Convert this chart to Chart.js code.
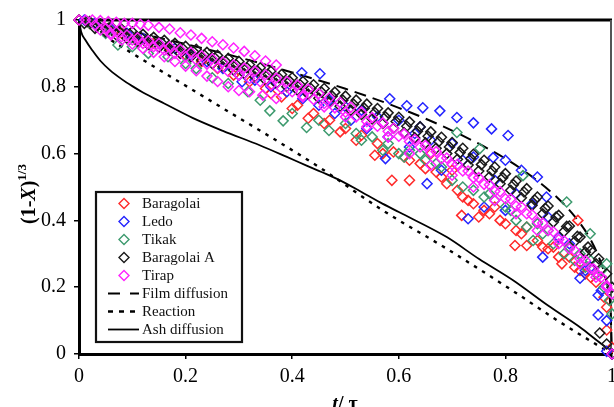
<!DOCTYPE html>
<html>
<head>
<meta charset="utf-8">
<script src="https://cdn.jsdelivr.net/npm/chart.js@4.4.1/dist/chart.umd.min.js"></script>
<style>
  html, body { margin: 0; padding: 0; background: #fff; }
  #wrap { width: 614px; height: 407px; }
</style>
</head>
<body>
<div id="wrap"><canvas id="chart" width="614" height="407"></canvas></div>
<script>
// values: [t/tau, (1-X)^1/3]
const tickLabels = ['0', '0.2', '0.4', '0.6', '0.8', '1'];

const baragolai = [
  [0,1],[0.02,0.99],[0.05,0.975],[0.08,0.96],[0.11,0.945],[0.14,0.93],[0.17,0.915],[0.2,0.895],
  [0.23,0.875],[0.26,0.855],[0.29,0.835],[0.32,0.815],[0.35,0.795],[0.36,0.78],[0.38,0.77],[0.4,0.735],
  [0.41,0.745],[0.43,0.706],[0.44,0.72],[0.46,0.69],[0.47,0.7],[0.49,0.665],[0.5,0.675],[0.52,0.64],
  [0.53,0.655],[0.555,0.595],[0.56,0.63],[0.57,0.6],[0.587,0.52],[0.59,0.605],[0.61,0.59],[0.62,0.52],
  [0.62,0.58],[0.64,0.57],[0.65,0.555],[0.66,0.6],[0.67,0.545],[0.68,0.53],[0.69,0.51],[0.7,0.55],
  [0.71,0.49],[0.718,0.415],[0.72,0.47],[0.73,0.46],[0.74,0.45],[0.75,0.41],[0.76,0.43],[0.77,0.42],
  [0.78,0.44],[0.79,0.4],[0.8,0.39],[0.818,0.325],[0.82,0.37],[0.83,0.36],[0.84,0.325],[0.84,0.38],
  [0.86,0.34],[0.87,0.32],[0.88,0.315],[0.89,0.32],[0.9,0.29],[0.906,0.27],[0.92,0.29],[0.93,0.26],
  [0.936,0.4],[0.94,0.25],[0.95,0.24],[0.96,0.23],[0.97,0.215],[0.985,0.17],[0.99,0.14],[0.99,0.072],
  [1,0.02],[1,0]
];

const ledo = [
  [0.01,1],[0.03,0.99],[0.06,0.975],[0.09,0.96],[0.12,0.945],[0.15,0.93],[0.18,0.915],[0.21,0.895],
  [0.24,0.875],[0.27,0.855],[0.3,0.835],[0.306,0.815],[0.33,0.82],[0.36,0.8],[0.39,0.785],
  [0.418,0.842],[0.42,0.765],[0.452,0.839],[0.45,0.745],[0.47,0.76],[0.48,0.72],[0.5,0.74],[0.51,0.7],
  [0.53,0.73],[0.54,0.675],[0.56,0.71],[0.575,0.585],[0.583,0.764],[0.58,0.65],[0.6,0.7],[0.615,0.743],
  [0.62,0.62],[0.63,0.66],[0.64,0.68],[0.645,0.737],[0.653,0.51],[0.66,0.64],[0.677,0.728],[0.68,0.55],
  [0.7,0.63],[0.709,0.708],[0.72,0.58],[0.73,0.405],[0.74,0.692],[0.74,0.59],[0.76,0.44],[0.774,0.674],
  [0.777,0.588],[0.78,0.52],[0.8,0.58],[0.8,0.43],[0.805,0.654],[0.82,0.48],[0.83,0.55],[0.85,0.45],
  [0.86,0.53],[0.87,0.29],[0.877,0.47],[0.88,0.41],[0.9,0.35],[0.92,0.33],[0.94,0.227],[0.95,0.25],
  [0.96,0.26],[0.974,0.176],[0.974,0.117],[0.98,0.19],[0.99,0.1],[0.99,0.008],[1,0]
];

const tikak = [
  [0.02,0.99],[0.05,0.96],[0.073,0.925],[0.1,0.92],[0.13,0.9],[0.167,0.89],[0.2,0.87],[0.22,0.855],
  [0.25,0.827],[0.28,0.81],[0.317,0.785],[0.34,0.76],[0.358,0.728],[0.383,0.698],[0.4,0.72],
  [0.427,0.678],[0.45,0.7],[0.469,0.669],[0.5,0.69],[0.52,0.66],[0.53,0.64],[0.55,0.65],[0.57,0.61],
  [0.58,0.63],[0.6,0.6],[0.61,0.59],[0.62,0.61],[0.64,0.6],[0.65,0.58],[0.67,0.57],[0.68,0.56],
  [0.7,0.52],[0.709,0.663],[0.72,0.5],[0.74,0.49],[0.752,0.615],[0.76,0.47],[0.77,0.48],[0.78,0.46],
  [0.8,0.44],[0.81,0.43],[0.82,0.4],[0.833,0.534],[0.84,0.38],[0.852,0.34],[0.86,0.39],[0.87,0.36],
  [0.88,0.37],[0.89,0.33],[0.91,0.3],[0.915,0.455],[0.92,0.32],[0.93,0.28],[0.94,0.3],[0.95,0.26],
  [0.959,0.36],[0.96,0.28],[0.97,0.24],[0.98,0.25],[0.985,0.2],[0.99,0.27],[0.995,0.16],[1,0.2],[1,0.12]
];

const baragolaiA = [
  [0,1],[0.02,0.995],[0.04,0.988],[0.06,0.98],[0.08,0.972],[0.1,0.965],[0.12,0.957],[0.14,0.948],
  [0.16,0.939],[0.18,0.93],[0.2,0.921],[0.22,0.912],[0.24,0.903],[0.26,0.894],[0.28,0.885],[0.3,0.876],
  [0.32,0.866],[0.34,0.857],[0.36,0.847],[0.38,0.837],[0.4,0.827],[0.42,0.816],[0.44,0.806],[0.46,0.795],
  [0.48,0.784],[0.5,0.772],[0.52,0.76],[0.54,0.748],[0.56,0.735],[0.58,0.722],[0.6,0.709],[0.62,0.695],
  [0.64,0.68],[0.66,0.665],[0.68,0.649],[0.7,0.633],[0.72,0.616],[0.74,0.598],[0.76,0.58],[0.78,0.56],
  [0.8,0.54],[0.82,0.518],[0.84,0.495],[0.86,0.47],[0.88,0.443],[0.9,0.415],[0.92,0.383],[0.94,0.35],
  [0.96,0.31],[0.975,0.285],[0.99,0.24],[1,0.2],
  [0.01,0.99],[0.03,0.975],[0.05,0.965],[0.07,0.955],[0.09,0.945],[0.11,0.936],[0.13,0.927],[0.15,0.918],
  [0.17,0.909],[0.19,0.9],[0.21,0.89],[0.23,0.88],[0.25,0.87],[0.27,0.86],[0.29,0.85],[0.31,0.84],
  [0.33,0.83],[0.35,0.82],[0.37,0.81],[0.39,0.8],[0.41,0.79],[0.43,0.778],[0.45,0.766],[0.47,0.754],
  [0.49,0.742],[0.51,0.73],[0.53,0.717],[0.55,0.704],[0.57,0.69],[0.59,0.676],[0.61,0.662],[0.63,0.647],
  [0.65,0.632],[0.67,0.616],[0.69,0.6],[0.71,0.583],[0.73,0.566],[0.75,0.548],[0.77,0.53],[0.79,0.51],
  [0.81,0.49],[0.83,0.468],[0.85,0.445],[0.87,0.42],[0.89,0.395],[0.91,0.367],[0.93,0.337],[0.95,0.305],
  [0.97,0.27],
  [0.015,0.995],[0.035,0.985],[0.055,0.975],[0.075,0.966],[0.095,0.958],[0.115,0.95],[0.135,0.941],
  [0.155,0.932],[0.175,0.923],[0.195,0.914],[0.215,0.905],[0.235,0.895],[0.255,0.886],[0.275,0.876],
  [0.295,0.866],[0.315,0.857],[0.335,0.847],[0.355,0.837],[0.375,0.827],[0.395,0.817],[0.415,0.806],
  [0.435,0.795],[0.455,0.784],[0.475,0.772],[0.495,0.76],[0.515,0.748],[0.535,0.736],[0.555,0.723],
  [0.575,0.71],[0.595,0.696],[0.615,0.682],[0.635,0.667],[0.655,0.652],[0.675,0.636],[0.695,0.62],
  [0.715,0.603],[0.735,0.585],[0.755,0.567],[0.775,0.548],[0.795,0.528],[0.815,0.507],[0.835,0.485],
  [0.855,0.461],[0.875,0.436],[0.895,0.41],[0.915,0.382],[0.935,0.352],[0.955,0.32],
  [0.977,0.063],[0.99,0.03],[1,0]
];

const tirap = [
  // upper strand
  [0,1],[0.012,1],[0.025,1],[0.04,0.998],[0.055,0.995],[0.07,0.993],[0.085,0.99],[0.1,0.99],
  [0.115,0.987],[0.13,0.984],[0.15,0.978],[0.17,0.973],[0.19,0.962],[0.21,0.955],[0.23,0.945],
  [0.25,0.935],[0.27,0.926],[0.29,0.916],[0.31,0.906],[0.33,0.893],[0.35,0.877],[0.37,0.865],
  // middle strand
  [0.03,0.985],[0.05,0.975],[0.07,0.965],[0.09,0.955],[0.11,0.947],[0.13,0.938],[0.15,0.93],[0.17,0.92],
  [0.19,0.912],[0.21,0.903],[0.23,0.893],[0.25,0.884],[0.27,0.874],[0.29,0.865],[0.31,0.856],[0.33,0.847],
  [0.35,0.836],[0.37,0.826],[0.39,0.816],[0.41,0.805],[0.43,0.793],[0.45,0.78],[0.47,0.767],[0.49,0.753],
  [0.51,0.739],[0.53,0.724],[0.55,0.708],[0.57,0.692],[0.59,0.676],[0.61,0.659],[0.63,0.642],[0.65,0.624],
  [0.67,0.606],[0.69,0.587],[0.71,0.568],[0.73,0.548],[0.75,0.528],[0.77,0.507],[0.79,0.486],[0.81,0.464],
  [0.83,0.441],[0.85,0.417],[0.87,0.392],[0.89,0.366],[0.91,0.339],[0.93,0.31],[0.95,0.28],[0.965,0.255],
  [0.98,0.23],[0.99,0.205],[1,0.18],[1,0],
  // second middle strand
  [0.04,0.97],[0.06,0.96],[0.08,0.95],[0.1,0.94],[0.12,0.93],[0.14,0.92],[0.16,0.91],[0.18,0.9],
  [0.2,0.89],[0.22,0.88],[0.24,0.868],[0.26,0.857],[0.28,0.846],[0.3,0.835],[0.32,0.825],[0.34,0.815],
  [0.36,0.805],[0.38,0.795],[0.4,0.785],[0.42,0.774],[0.44,0.762],[0.46,0.75],[0.48,0.737],[0.5,0.724],
  [0.52,0.71],[0.54,0.696],[0.56,0.682],[0.58,0.667],[0.6,0.652],[0.62,0.636],[0.64,0.62],[0.66,0.603],
  [0.68,0.585],[0.7,0.567],[0.72,0.548],[0.74,0.528],[0.76,0.508],[0.78,0.487],[0.8,0.465],[0.82,0.443],
  [0.84,0.42],[0.86,0.395],[0.88,0.37],[0.9,0.343],[0.92,0.315],[0.94,0.285],[0.96,0.255],[0.975,0.235],
  // lower strand
  [0.06,0.955],[0.08,0.94],[0.1,0.928],[0.12,0.915],[0.14,0.903],[0.16,0.89],[0.18,0.876],[0.2,0.862],
  [0.22,0.848],[0.24,0.832],[0.26,0.816],[0.28,0.8],[0.3,0.789],[0.32,0.785],[0.345,0.775],[0.37,0.765],
  [0.42,0.77],[0.46,0.74],[0.5,0.71],[0.54,0.68],[0.58,0.65],[0.62,0.6],[0.66,0.565],[0.7,0.535],
  [0.74,0.5],[0.78,0.46],[0.82,0.42],[0.86,0.37],[0.9,0.33],[0.94,0.27],[0.97,0.23],[0.99,0.2]
];

const filmDiffusion = [
  [0,1],[0.1,0.965],[0.2,0.928],[0.3,0.888],[0.4,0.843],[0.5,0.794],[0.6,0.737],[0.7,0.669],
  [0.8,0.585],[0.85,0.531],[0.9,0.464],[0.93,0.412],[0.96,0.342],[0.98,0.27],[0.99,0.215],[0.997,0.14],[1,0]
];
const reaction = [
  [0,1],[0.1,0.9],[0.25,0.755],[0.45,0.56],[0.57,0.43],[0.69,0.315],[0.815,0.188],[0.9,0.098],[1,0]
];
const ashDiffusion = [
  [0,1],[0.004,0.965],[0.012,0.94],[0.026,0.907],[0.04,0.878],[0.058,0.85],[0.08,0.823],[0.1,0.802],
  [0.12,0.783],[0.16,0.75],[0.213,0.707],[0.27,0.668],[0.339,0.625],[0.39,0.59],[0.427,0.564],
  [0.455,0.545],[0.49,0.52],[0.53,0.485],[0.565,0.454],[0.6,0.425],[0.69,0.35],[0.75,0.285],
  [0.815,0.22],[0.88,0.145],[0.94,0.08],[0.983,0.027],[1,0.01]
];

const xy = arr => arr.map(p => ({ x: p[0], y: p[1] }));
const serif = '"Liberation Serif", "Times New Roman", serif';

function pts(label, data, color, order) {
  return {
    label, data: xy(data), order,
    pointStyle: 'rectRot', pointRadius: 5, pointBorderWidth: 1.5,
    borderColor: color, backgroundColor: 'rgba(0,0,0,0)',
    showLine: false, clip: false
  };
}
function curve(label, data, dash, width, order) {
  return {
    label, data: xy(data), order,
    showLine: true, pointRadius: 0, borderColor: '#000', borderWidth: width,
    borderDash: dash, cubicInterpolationMode: 'monotone', clip: false, isLine: true
  };
}

// frame, legend box and axis titles
const extras = {
  id: 'extras',
  beforeDatasetsDraw(chart) {
    const { ctx, chartArea: a } = chart;
    ctx.save();
    ctx.strokeStyle = '#000';
    ctx.lineWidth = 3;
    ctx.beginPath(); ctx.moveTo(a.left, a.top); ctx.lineTo(a.right, a.top); ctx.stroke();
    ctx.strokeStyle = '#555';
    ctx.lineWidth = 2;
    ctx.beginPath(); ctx.moveTo(a.right - 1, a.top); ctx.lineTo(a.right - 1, a.bottom); ctx.stroke();
    ctx.restore();
  },
  afterDatasetsDraw(chart) {
    const ctx = chart.ctx;
    ctx.save();
    ctx.fillStyle = '#fff';
    ctx.fillRect(96, 192, 146, 150);
    ctx.strokeStyle = '#111';
    ctx.lineWidth = 2.2;
    ctx.strokeRect(96, 192, 146, 150);
    ctx.font = '15px ' + serif;
    ctx.textBaseline = 'middle';
    chart.data.datasets.forEach((ds, i) => {
      const y = 203.5 + i * 18;
      ctx.strokeStyle = ds.borderColor;
      if (ds.isLine) {
        ctx.lineWidth = ds.borderWidth;
        ctx.setLineDash(ds.legendDash);
        ctx.beginPath(); ctx.moveTo(108, y); ctx.lineTo(139, y); ctx.stroke();
        ctx.setLineDash([]);
      } else {
        ctx.lineWidth = 1.4;
        ctx.beginPath();
        ctx.moveTo(124, y - 5); ctx.lineTo(129, y); ctx.lineTo(124, y + 5); ctx.lineTo(119, y);
        ctx.closePath(); ctx.stroke();
      }
      ctx.fillStyle = '#111';
      ctx.fillText(ds.label, 142, y + 1);
    });
    ctx.restore();
  },
  afterDraw(chart) {
    const ctx = chart.ctx;
    ctx.save();
    ctx.fillStyle = '#000';
    ctx.textBaseline = 'alphabetic';
    // y title: (1-X)^1/3, rotated
    const parts = [
      { t: '(1-', f: 'bold 20px ' + serif, dy: 0 },
      { t: 'X', f: 'italic bold 20px ' + serif, dy: 0 },
      { t: ')', f: 'bold 20px ' + serif, dy: 0 },
      { t: '1/3', f: 'bold 13px ' + serif, dy: -9 }
    ];
    let w = 0;
    parts.forEach(p => { ctx.font = p.f; p.w = ctx.measureText(p.t).width; w += p.w; });
    ctx.translate(35, 194);
    ctx.rotate(-Math.PI / 2);
    let x = -w / 2;
    parts.forEach(p => { ctx.font = p.f; ctx.fillText(p.t, x, p.dy); x += p.w; });
    ctx.setTransform(1, 0, 0, 1, 0, 0);
    // x title: t/ tau
    const xp = [
      { t: 't', f: 'italic bold 20px ' + serif },
      { t: '/ τ', f: 'bold 20px ' + serif }
    ];
    w = 0;
    xp.forEach(p => { ctx.font = p.f; p.w = ctx.measureText(p.t).width; w += p.w; });
    x = 345 - w / 2;
    xp.forEach(p => { ctx.font = p.f; ctx.fillText(p.t, x, 410); x += p.w; });
    ctx.restore();
  }
};

const datasets = [
  pts('Baragolai', baragolai, '#ff2a2a', 5),
  pts('Ledo', ledo, '#2424ff', 4),
  pts('Tikak', tikak, '#3d9a6e', 3),
  pts('Baragolai A', baragolaiA, '#1a1a1a', 2),
  pts('Tirap', tirap, '#ff22ff', 1),
  Object.assign(curve('Film diffusion', filmDiffusion, [12, 7], 2, 8), { legendDash: [12, 10] }),
  Object.assign(curve('Reaction', reaction, [3.5, 6], 2.4, 7), { legendDash: [5, 6] }),
  Object.assign(curve('Ash diffusion', ashDiffusion, [], 1.8, 6), { legendDash: [] })
];

new Chart(document.getElementById('chart'), {
  type: 'scatter',
  data: { datasets },
  plugins: [extras],
  options: {
    responsive: false,
    animation: false,
    layout: { autoPadding: false, padding: { left: 0, top: 20, right: 2, bottom: 0 } },
    plugins: { legend: { display: false }, tooltip: { enabled: false } },
    scales: {
      x: {
        type: 'linear', min: 0, max: 1,
        afterFit: s => { s.height = 53; s.paddingLeft = 0; s.paddingRight = 0; },
        grid: { drawOnChartArea: false, drawTicks: true, tickLength: 5, color: '#000', lineWidth: 1.5 },
        border: { display: true, color: '#000', width: 3 },
        ticks: {
          stepSize: 0.2, padding: 6, color: '#000', maxRotation: 0,
          font: { family: serif, size: 20 },
          callback: (v, i) => tickLabels[i]
        }
      },
      y: {
        type: 'linear', min: 0, max: 1,
        afterFit: s => { s.width = 79; },
        grid: { drawOnChartArea: false, drawTicks: true, tickLength: 5, color: '#000', lineWidth: 1.5 },
        border: { display: true, color: '#000', width: 3 },
        ticks: {
          stepSize: 0.2, padding: 8, color: '#000',
          font: { family: serif, size: 20 },
          callback: (v, i) => tickLabels[i]
        }
      }
    }
  }
});
</script>
</body>
</html>
